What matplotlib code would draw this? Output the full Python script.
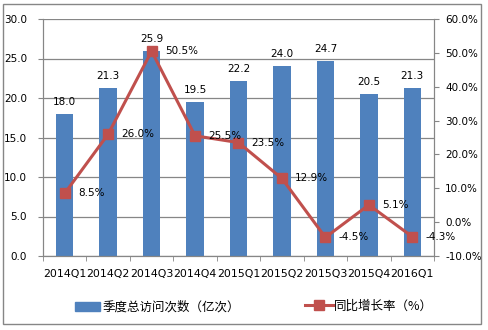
import matplotlib
matplotlib.use("Agg")
import matplotlib.pyplot as plt
from matplotlib.patches import Rectangle
from matplotlib.lines import Line2D
import numpy as np

quarters = ["2014Q1", "2014Q2", "2014Q3", "2014Q4", "2015Q1",
            "2015Q2", "2015Q3", "2015Q4", "2016Q1"]
visits = [18.0, 21.3, 25.9, 19.5, 22.2, 24.0, 24.7, 20.5, 21.3]
growth = [8.5, 26.0, 50.5, 25.5, 23.5, 12.9, -4.5, 5.1, -4.3]

bar_label = "季度总访问次数（亿次）"
line_label = "同比增长率（%）"

plt.rcParams['font.family'] = ['DejaVu Sans', 'Noto Sans CJK SC']
fs = 7.5
grey = "#868686"
blue = "#4F81BD"
red = "#C0504D"

fig = plt.figure(figsize=(4.89, 3.30), dpi=100)
W, H = 489, 330
ax = fig.add_axes([43 / W, 1 - 256 / H, (434 - 43) / W, (256 - 19) / H])
ax2 = ax.twinx()

x = np.arange(len(quarters))

# --- bars ---
ax.bar(x, visits, width=0.4, color=blue, zorder=2)
ax.set_ylim(0, 30)
ax.set_yticks(np.arange(0, 30.1, 5))
ax.set_yticklabels([f"{v:.1f}" for v in np.arange(0, 30.1, 5)], fontsize=fs)
ax.set_xlim(-0.5, len(quarters) - 0.5)
ax.set_xticks(x)
ax.set_xticklabels(quarters, fontsize=7.9)
ax.set_xticks(np.arange(-0.5, len(quarters)), minor=True)
ax.tick_params(axis='x', which='major', length=0, pad=9)
ax.tick_params(axis='x', which='minor', length=3.5, color=grey, direction='out')
ax.tick_params(axis='y', length=3.5, color=grey, direction='out', pad=8)
ax.yaxis.grid(True, color=grey, linewidth=0.9, zorder=0)
ax.set_axisbelow(True)
for v, xi in zip(visits, x):
    ax.annotate(f"{v:.1f}", (xi, v), xytext=(0, 5), textcoords='offset points',
                ha='center', va='bottom', fontsize=fs)

# --- growth line ---
ax2.plot(x, growth, color=red, linewidth=2.2, marker='s', markersize=6.5, zorder=3)
ax2.set_ylim(-10, 60)
rt = np.arange(-10, 60.1, 10)
ax2.set_yticks(rt)
ax2.set_yticklabels([f"{v:.1f}%" for v in rt], fontsize=fs)
ax2.tick_params(axis='y', length=3.5, color=grey, direction='out', pad=4.5)
for g, xi in zip(growth, x):
    ax2.annotate(f"{g:.1f}%", (xi, g), xytext=(9.5, 0), textcoords='offset points',
                 ha='left', va='center', fontsize=fs)

for a in (ax, ax2):
    a.spines['top'].set_visible(False)
    for s in ('left', 'right', 'bottom'):
        a.spines[s].set_color(grey)

# --- legends ---
cjk = {'family': ['Noto Sans CJK SC'], 'size': 9}
h1 = Rectangle((0, 0), 1, 1, color=blue)
fig.legend([h1], [bar_label], loc='center left',
           bbox_to_anchor=(69 / W, 1 - 307 / H), frameon=False, prop=cjk,
           handlelength=2.0, handleheight=0.7, handletextpad=0.15, borderpad=0)
h2 = Line2D([], [], color=red, linewidth=2.2, marker='s', markersize=6.5)
fig.legend([h2], [line_label], loc='center left',
           bbox_to_anchor=(299 / W, 1 - 306 / H), frameon=False, prop=cjk,
           handlelength=2.2, handletextpad=0.1, borderpad=0)

# outer chart border
fig.patches.append(Rectangle((3 / W, 1 - 324 / H), (481 - 3) / W, (324 - 4) / H,
                             transform=fig.transFigure, fill=False,
                             edgecolor=grey, linewidth=1.0))

fig.savefig("out.png", dpi=100)
